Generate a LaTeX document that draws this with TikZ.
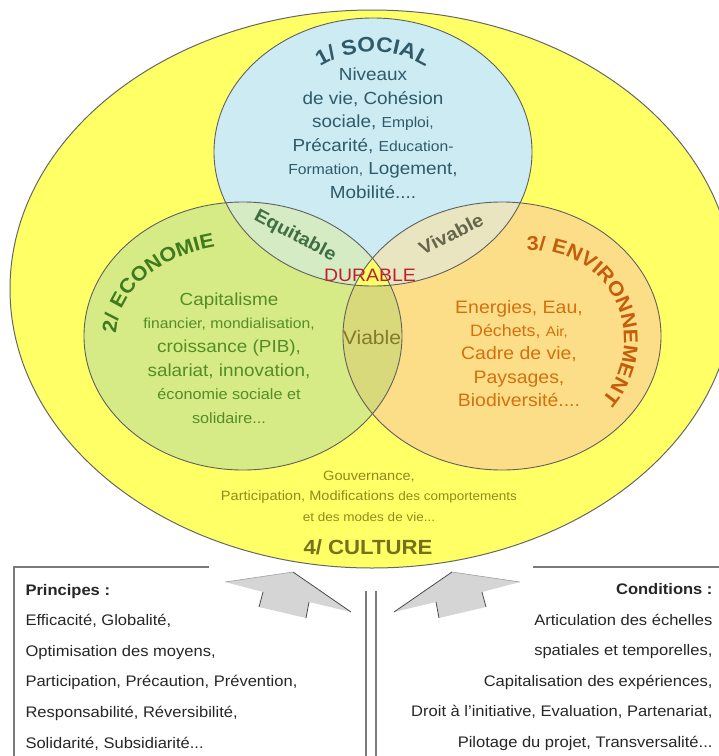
\documentclass[tikz,border=0pt]{standalone}
\usepackage{fontspec}
\setmainfont{Liberation Sans}[FakeStretch=1.08]
\usetikzlibrary{decorations.text}

\definecolor{cultureyellow}{HTML}{FFFF66}
\definecolor{socialfill}{HTML}{CDEBF3}
\definecolor{ecofill}{HTML}{D6EB85}
\definecolor{envfill}{HTML}{FDDE88}
\definecolor{equifill}{HTML}{D5EBC3}
\definecolor{vivfill}{HTML}{E9E5C1}
\definecolor{viafill}{HTML}{D8D97A}
\definecolor{socialtxt}{HTML}{2E5A69}
\definecolor{ecotxt}{HTML}{558C28}
\definecolor{ecotitle}{HTML}{3F7A1E}
\definecolor{envtxt}{HTML}{D4700F}
\definecolor{envtitle}{HTML}{C45E0A}
\definecolor{culturetxt}{HTML}{948A1C}
\definecolor{culturetitle}{HTML}{77721A}
\definecolor{durablered}{HTML}{C0202A}
\definecolor{equitxt}{HTML}{3F6E45}
\definecolor{vivtxt}{HTML}{67664C}
\definecolor{viatxt}{HTML}{857A2A}
\definecolor{linegray}{HTML}{7A7A7A}

\newcommand{\fsz}[2]{\fontsize{#1}{#2}\selectfont}

\tikzset{
    vennsize/.style={x radius=159pt, y radius=134pt},
    vennline/.style={draw=gray!75!black, line width=0.9pt},
    lenslabel/.style={font=\bfseries\fsz{18.5}{18.5}},
    boxline/.style={draw=linegray, line width=1.6pt},
    arrowbody/.style={fill=gray!33},
    arrowedge/.style={draw=gray!60!black, line width=0.8pt},
}

\begin{document}
\begin{tikzpicture}[x=1pt, y=1pt]

        \clip (0,0) rectangle (719,-756);

        % Culture ellipse
        \filldraw[fill=cultureyellow, draw=gray!80!black, line width=1pt]
            (372,-289) ellipse [x radius=362pt, y radius=279pt];

        \coordinate (soc) at (373,-152);
        \coordinate (eco) at (243,-336);
        \coordinate (env) at (502,-336);

        % the three pillars
        \fill[socialfill] (soc) ellipse [vennsize];
        \fill[ecofill] (eco) ellipse [vennsize];
        \fill[envfill] (env) ellipse [vennsize];

        % overlaps
        \begin{scope}
            \clip (soc) ellipse [vennsize];
            \fill[equifill] (eco) ellipse [vennsize];
            \fill[vivfill] (env) ellipse [vennsize];
        \end{scope}
        \begin{scope}
            \clip (eco) ellipse [vennsize];
            \fill[viafill] (env) ellipse [vennsize];
            \clip (env) ellipse [vennsize];
            \fill[cultureyellow] (soc) ellipse [vennsize];
        \end{scope}

        \path[vennline] (soc) ellipse [vennsize];
        \path[vennline] (eco) ellipse [vennsize];
        \path[vennline] (env) ellipse [vennsize];

        % curved titles
        \path[decorate, decoration={text along path, text align=center,
            text={|\bfseries\fsz{21}{21}\color{socialtxt}|1/ SOCIAL}}]
            (373,-152) ++(150:100) arc[start angle=150, end angle=30, radius=100];
        \path[decorate, decoration={text along path, text align=center,
            text={|\bfseries\fsz{20}{20}\color{ecotitle}|2/ ECONOMIE}}]
            (243,-336) ++(190:127 and 91) arc[start angle=190, end angle=94, x radius=127, y radius=91];
        \path[decorate, decoration={text along path, text align=center,
            text={|\bfseries\fsz{20}{20}\color{envtitle}|3/ ENVIRONNEMENT}}]
            (534,-340) ++(105:90) arc[start angle=105, end angle=-52, radius=90];

        % pillar contents
        \node[text=socialtxt, align=center, font=\fsz{17.5}{23.5}] (socbody) at (373,-133)
            {Niveaux\\ de vie, Cohésion\\ sociale, {\fsz{14.5}{23.5}Emploi,}\\
             Précarité, {\fsz{14.5}{23.5}Education-}\\ {\fsz{14.5}{23.5}Formation,} Logement,\\ Mobilité....};
        \node[text=ecotxt, align=center, font=\fsz{17.5}{23.6}] (ecobody) at (229,-358)
            {Capitalisme\\ {\fsz{14.5}{23.6}financier, mondialisation,}\\ croissance (PIB),\\
             salariat, innovation,\\ {\fsz{15}{23.6}économie sociale et}\\ {\fsz{15}{23.6}solidaire...}};
        \node[text=envtxt, align=center, font=\fsz{18}{23.3}] (envbody) at (519,-353.5)
            {Energies, Eau,\\ {\fsz{16.5}{23.3}Déchets,} {\fsz{14}{23.3}Air,}\\ Cadre de vie,\\ Paysages,\\ Biodiversité....};

        % overlap labels
        \node[lenslabel, text=equitxt, rotate=-28] (equit) at (295,-236) {Equitable};
        \node[lenslabel, text=vivtxt, rotate=27] (vivab) at (451,-234) {Vivable};
        \node[text=viatxt, font=\fsz{19.5}{19.5}] (viab) at (372,-338) {Viable};
        \node[text=durablered, font=\fsz{18}{18}] (durab) at (370,-275) {DURABLE};

        % culture
        \node[text=culturetxt, align=center, font=\fsz{13.5}{20.5}] (cultbody) at (369,-496)
            {Gouvernance,\\ Participation, Modifications {\fsz{12.5}{20.5}des comportements}\\
             {\fsz{12.5}{20.5}et des modes de vie...}};
        \node[text=culturetitle, font=\bfseries\fsz{20.5}{20.5}] (culttitle) at (368,-547) {4/ CULTURE};

        % boxes below
        \draw[boxline] (209,-567) -- (14,-567) -- (14,-760);
        \draw[boxline] (533,-567) -- (725,-567);
        \draw[boxline, line width=1.3pt] (366,-591) -- (366,-760);
        \draw[boxline, line width=1.3pt] (376,-591) -- (376,-760);

        % arrows up to the culture
        \fill[arrowbody] (293,-572) -- (351,-612) -- (309,-602) -- (306,-618)
            -- (259,-607) -- (263,-592) -- (225,-582) -- cycle;
        \draw[draw=gray!75, line width=0.6pt] (225,-582) -- (293,-572);
        \draw[arrowedge] (293,-572) -- (351,-612);
        \draw[arrowedge] (309,-602) -- (306,-618);
        \draw[arrowedge] (263,-592) -- (259,-607);

        \fill[arrowbody] (452,-572) -- (394,-612) -- (436,-602) -- (439,-618)
            -- (486,-607) -- (482,-592) -- (520,-582) -- cycle;
        \draw[draw=gray!75, line width=0.6pt] (520,-582) -- (452,-572);
        \draw[arrowedge] (452,-572) -- (394,-612);
        \draw[arrowedge] (436,-602) -- (439,-618);
        \draw[arrowedge] (482,-592) -- (486,-607);

        % principles and conditions
        \node[anchor=west, align=left, font=\fsz{15.3}{30.6}, text=black!85] (princ) at (22,-667)
            {\textbf{Principes :}\\ Efficacité, Globalité,\\ Optimisation des moyens,\\
             Participation, Précaution, Prévention,\\ Responsabilité, Réversibilité,\\ Solidarité, Subsidiarité...};
        \node[anchor=east, align=right, font=\fsz{15.3}{30.6}, text=black!85] (condi) at (716,-667)
            {\textbf{Conditions :}\\ Articulation des échelles\\ spatiales et temporelles,\\
             Capitalisation des expériences,\\ Droit à l'initiative, Evaluation, Partenariat,\\ Pilotage du projet, Transversalité...};

\end{tikzpicture}
\end{document}
